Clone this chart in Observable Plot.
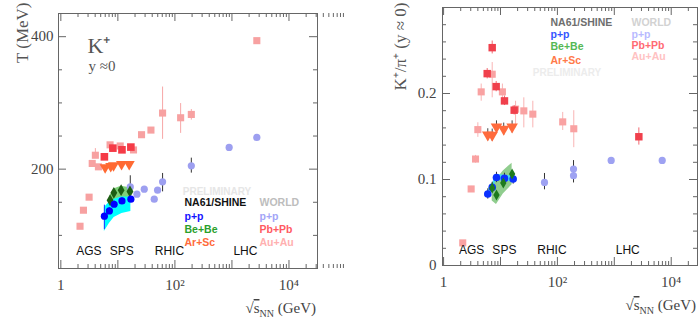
<!DOCTYPE html>
<html><head><meta charset="utf-8">
<script src="https://cdn.jsdelivr.net/npm/d3@7"></script>
<script src="https://cdn.jsdelivr.net/npm/@observablehq/plot@0.6"></script>
<style>
body{margin:0;background:#fff;}
#wrap{position:relative;width:698px;height:324px;overflow:hidden;}
#left,#right{position:absolute;top:0;}
#left{left:0;} #right{left:350px;}
</style></head><body><div id="wrap"><div id="left"></div><div id="right"></div></div>
<script>
// ---------------- LEFT PANEL: T (MeV) of K+ vs sqrt(sNN) ----------------
const L_auau_x = [2.17, 2.49, 3.13, 3.55, 4.03, 4.56, 7.3, 11, 18.8, 26, 38, 60.8, 126, 194, 2730];
const L_auau_T = [113.8, 138, 157.7, 208.6, 221, 203.5, 236.7, 235, 229, 252, 259, 284.7, 277.6, 282.6, 394];
const L_auauErr_x  = [4.03, 60.8, 126, 194];
const L_auauErr_lo = [216, 245, 254, 274];
const L_auauErr_hi = [231, 324, 299, 290];
const L_pbpb_x = [5.8, 8.17, 11.8, 16.9];
const L_pbpb_T = [218.6, 231.7, 229.2, 233.3];
const L_arsc_x = [5.98, 7.5, 8.4, 11.6, 15.8];
const L_arsc_T = [202.6, 204.5, 205.6, 207.6, 207.6];
const L_bebe_x = [7.3, 8.5, 11.4, 16.3];
const L_bebe_T = [153, 164.2, 168.3, 166.3];
const L_bebeBand_lo = [146, 154, 158, 158];
const L_bebeBand_hi = [160, 170, 174, 172];
const L_pp_x = [5.8, 7.1, 8.6, 11.8, 16.9];
const L_pp_T = [129, 137, 147, 152, 154.6];
const L_ppErr_lo = [108.8, 132, 142, 147, 150];
const L_ppErr_hi = [145.6, 142, 152, 157, 159];
const L_ppBand_lo = [106, 118, 127, 133, 136];
const L_ppBand_hi = [142, 150, 156, 160, 162];
const L_world_pp_x = [16.5, 21.6, 29, 43.4, 49.7, 60.8, 194, 893, 2730];
const L_world_pp_T = [173.2, 162.2, 169.8, 154.6, 168.3, 180.8, 205, 232.8, 247.9];
const L_worldErr_x  = [16.5, 60.8, 194, 893];
const L_worldErr_lo = [160, 165.7, 194, 228];
const L_worldErr_hi = [190, 193.5, 216.6, 237];

// ---------------- RIGHT PANEL: K+/pi+ ratio ----------------
const R_auau_x = [2.17, 3.05, 3.64, 4.0, 4.58, 7.15, 10.8, 18.4, 25.7, 37, 124, 194];
const R_auau_r = [0.0263, 0.089, 0.1238, 0.158, 0.2019, 0.2224, 0.2019, 0.1818, 0.1798, 0.176, 0.167, 0.159];
const R_auauErr_lo = [0.024, 0.086, 0.119, 0.149, 0.191, 0.195, 0.191, 0.160, 0.160, 0.160, 0.157, 0.137];
const R_auauErr_hi = [0.029, 0.092, 0.128, 0.166, 0.211, 0.236, 0.211, 0.191, 0.195, 0.191, 0.178, 0.180];
const R_pbpb_x = [5.84, 7.15, 8.4, 11.75, 17.4, 2700];
const R_pbpb_r = [0.2231, 0.2533, 0.208, 0.1914, 0.1806, 0.1497];
const R_pbpbErr_lo = [0.217, 0.246, 0.202, 0.186, 0.175, 0.140];
const R_pbpbErr_hi = [0.229, 0.261, 0.214, 0.197, 0.186, 0.160];
const R_arsc_x = [5.98, 7.15, 8.5, 11.4, 16];
const R_arsc_r = [0.152, 0.1516, 0.1612, 0.1586, 0.1612];
const R_bebe_x = [7.15, 8.5, 11.2, 16];
const R_bebe_r = [0.0901, 0.082, 0.0959, 0.1064];
const R_bebeBand_lo = [0.075, 0.071, 0.083, 0.094];
const R_bebeBand_hi = [0.096, 0.100, 0.110, 0.119];
const R_pp_x = [5.98, 7.15, 8.5, 11.75, 16.7];
const R_pp_r = [0.0832, 0.0908, 0.1024, 0.1013, 0.1006];
const R_ppBand_lo = [0.080, 0.087, 0.099, 0.098, 0.097];
const R_ppBand_hi = [0.087, 0.095, 0.106, 0.105, 0.104];
const R_world_pp_x = [59.3, 192, 192, 881, 6950];
const R_world_pp_r = [0.0966, 0.1044, 0.1122, 0.1222, 0.1222];
const R_worldErr_lo = [0.088, 0.096, 0.104, 0.120, 0.120];
const R_worldErr_hi = [0.107, 0.112, 0.122, 0.124, 0.124];

// facilities (beam energy where label sits) and tick labels
const facilities = ["AGS", "SPS", "RHIC", "LHC"];
const facilityEnergy = [3.1, 11.7, 80, 1720];
const xTickLabels = {1: "1", 100: "10\u00B2", 10000: "10\u2074"};

const zip = (xs, ys, extra = {}) => xs.map((x, i) => {
  const o = {x, y: ys[i]};
  for (const k in extra) o[k] = extra[k][i];
  return o;
});

const xMajor = [1, 10, 100, 1000, 10000];
const xMinor = d3.range(0, 5).flatMap(e => d3.range(2, 10).map(m => m * 10 ** e));

const serif = "Liberation Serif";
const sans = "Liberation Sans";

function frameTicks(xMin, yMajor, yMinor, pw, ph) {
  const s = "#666";
  return [
    Plot.tickX(xMajor, {x: d => d, stroke: s, insetTop: ph - 8}),
    Plot.tickX(xMin, {x: d => d, stroke: s, insetTop: ph - 4}),
    Plot.tickX(xMajor, {x: d => d, stroke: s, insetBottom: ph - 8}),
    Plot.tickX(xMin, {x: d => d, stroke: s, insetBottom: ph - 4}),
    Plot.tickY(yMajor, {y: d => d, stroke: s, insetRight: pw - 8}),
    Plot.tickY(yMinor, {y: d => d, stroke: s, insetRight: pw - 4}),
    Plot.tickY(yMajor, {y: d => d, stroke: s, insetLeft: pw - 8}),
    Plot.tickY(yMinor, {y: d => d, stroke: s, insetLeft: pw - 4})
  ];
}

function legendText(t, dx, dy, fill, anchor = "start", size = 10.5) {
  return Plot.text([t], {text: d => d, frameAnchor: "top-left", dx, dy, fill,
    fontFamily: sans, fontWeight: "bold", fontSize: size, textAnchor: anchor});
}

function errBars(xs, lo, hi, stroke) {
  return Plot.ruleX(zip(xs, lo, {hi}), {x: "x", y1: "y", y2: "hi", stroke, strokeWidth: 1});
}

function dots(xs, ys, opts) {
  return Plot.dot(zip(xs, ys), {x: "x", y: "y", stroke: null, ...opts});
}

function band(xs, lo, hi, fill, opacity = 1) {
  return Plot.areaY(zip(xs, lo, {hi}), {x: "x", y1: "y", y2: "hi", fill, fillOpacity: opacity});
}

function xLabel(svg, x, y) {
  const t = svg.append("text").attr("x", x).attr("y", y).attr("text-anchor", "end")
    .attr("font-family", serif).attr("font-size", 15).attr("fill", "#444");
  t.append("tspan").text("\u221A");
  t.append("tspan").style("text-decoration", "overline").text("s");
  t.append("tspan").attr("font-size", 10).attr("dy", 4).text("NN");
  t.append("tspan").attr("dy", -4).text(" (GeV)");
}

// ---------- LEFT ----------
{
  const W = 350, H = 324, mL = 58, mR = 33, mT = 13, mB = 56;
  const pw = W - mL - mR, ph = H - mT - mB;
  const yMinor = [100, 150, 250, 300, 350];
  const p = Plot.plot({
    width: W, height: H, marginLeft: mL, marginRight: mR, marginTop: mT, marginBottom: mB,
    style: {fontFamily: serif, fontSize: "15px", color: "#444", background: "white"},
    x: {type: "log", domain: [0.91, 31623]},
    y: {domain: [50, 435]},
    marks: [
      band(L_pp_x, L_ppBand_lo, L_ppBand_hi, "#00ffff"),
      band(L_bebe_x, L_bebeBand_lo, L_bebeBand_hi, "#7fd07a"),
      errBars(L_auauErr_x, L_auauErr_lo, L_auauErr_hi, "#f7a7a7"),
      dots(L_auau_x, L_auau_T, {symbol: "square", r: 4, fill: "#f7a1a1"}),
      dots(L_pbpb_x, L_pbpb_T, {symbol: "square", r: 4.3, fill: "#f53b47"}),
      dots(L_arsc_x, L_arsc_T, {symbol: "triangle", r: 4.1, rotate: 180, fill: "#ff6a33"}),
      errBars(L_worldErr_x, L_worldErr_lo, L_worldErr_hi, "#333"),
      dots(L_world_pp_x, L_world_pp_T, {r: 3.6, fill: "#9d9ff0"}),
      dots(L_bebe_x, L_bebe_T, {symbol: "diamond", r: 3.6, fill: "#1d5e14"}),
      errBars(L_pp_x, L_ppErr_lo, L_ppErr_hi, "#2233ff"),
      dots(L_pp_x, L_pp_T, {r: 3.6, fill: "#0000ff"}),
      Plot.frame({stroke: "#666"}),
      ...frameTicks(xMinor, [200, 400], yMinor, pw, ph),
      Plot.axisX({ticks: xMajor.filter(d => xTickLabels[d]), tickSize: 0, tickPadding: 11,
        tickFormat: d => xTickLabels[d], label: null, fill: "#444"}),
      Plot.axisY({ticks: [200, 400], tickSize: 0, tickPadding: 5, label: null, fill: "#444"}),
      Plot.text(["T (MeV)"], {text: d => d, frameAnchor: "top-left", dx: -43, dy: -11, rotate: -90,
        textAnchor: "end", fontFamily: serif, fontSize: 17, fill: "#555"}),
      Plot.text(["K\u207A"], {text: d => d, frameAnchor: "top-left", dx: 29, dy: 24, textAnchor: "start",
        fontFamily: serif, fontSize: 22, fill: "#555"}),
      Plot.text(["y \u22480"], {text: d => d, frameAnchor: "top-left", dx: 30, dy: 47, textAnchor: "start",
        fontFamily: serif, fontSize: 15, fill: "#555"}),
      Plot.text(zip(facilityEnergy, facilities), {x: "x", text: "y", frameAnchor: "bottom", dy: -14,
        fontFamily: sans, fontSize: 12, fill: "#111"}),
      legendText("PRELIMINARY", 158.5, 174.5, "#e6e6e6", "middle", 10),
      legendText("NA61/SHINE", 126, 185, "#111"),
      legendText("WORLD", 201, 185, "#bdbdbd"),
      legendText("p+p", 126, 198.7, "#1414ff"),
      legendText("Be+Be", 126, 212, "#2ba02b"),
      legendText("Ar+Sc", 126, 225.3, "#ff6a3a"),
      legendText("p+p", 201, 198.7, "#a3a5f7"),
      legendText("Pb+Pb", 201, 212, "#ff5a62"),
      legendText("Au+Au", 201, 225.3, "#ffb0b0")
    ]
  });
  document.getElementById("left").append(p);
  xLabel(d3.select(p), 316, 313);
}

// ---------- RIGHT ----------
{
  const W = 348, H = 324, mL = 92, mR = 1, mT = 7, mB = 59;
  const pw = W - mL - mR, ph = H - mT - mB;
  const yMajor = [0, 0.1, 0.2, 0.3];
  const yMinor = d3.range(0.02, 0.3, 0.02).filter(v => Math.abs(v * 10 - Math.round(v * 10)) > 1e-6);
  const p = Plot.plot({
    width: W, height: H, marginLeft: mL, marginRight: mR, marginTop: mT, marginBottom: mB,
    style: {fontFamily: serif, fontSize: "15px", color: "#444", background: "white"},
    x: {type: "log", domain: [0.957, 28970]},
    y: {domain: [0, 0.3]},
    marks: [
      band(R_bebe_x, R_bebeBand_lo, R_bebeBand_hi, "#7cc47a", 0.85),
      band(R_pp_x, R_ppBand_lo, R_ppBand_hi, "#33e0ff", 0.8),
      errBars(R_auau_x, R_auauErr_lo, R_auauErr_hi, "#f9b4b4"),
      dots(R_auau_x, R_auau_r, {symbol: "square", r: 4, fill: "#f9a2a2"}),
      errBars(R_pbpb_x, R_pbpbErr_lo, R_pbpbErr_hi, "#f26a72"),
      dots(R_pbpb_x, R_pbpb_r, {symbol: "square", r: 4.2, fill: "#f0404c"}),
      errBars(R_arsc_x, R_arsc_r.map(v => v - 0.007), R_arsc_r.map(v => v + 0.007), "#444"),
      dots(R_arsc_x, R_arsc_r, {symbol: "triangle", r: 4.3, rotate: 180, fill: "#ff6b3d"}),
      errBars(R_world_pp_x, R_worldErr_lo, R_worldErr_hi, "#333"),
      dots(R_world_pp_x, R_world_pp_r, {r: 3.6, fill: "#9ea2f2"}),
      errBars(R_pp_x, R_pp_r.map(v => v - 0.006), R_pp_r.map(v => v + 0.006), "#333"),
      dots(R_pp_x, R_pp_r, {r: 3.8, fill: "#0a30ff"}),
      errBars(R_bebe_x, R_bebe_r.map(v => v - 0.004), R_bebe_r.map(v => v + 0.004), "#1d5e14"),
      dots(R_bebe_x, R_bebe_r, {symbol: "diamond", r: 3.3, fill: "#1d7a1d"}),
      Plot.frame({stroke: "#666"}),
      ...frameTicks(xMinor, yMajor, yMinor, pw, ph),
      Plot.axisX({ticks: xMajor.filter(d => xTickLabels[d]), tickSize: 0, tickPadding: 11,
        tickFormat: d => xTickLabels[d], label: null, fill: "#444"}),
      Plot.axisY({ticks: [0, 0.1, 0.2], tickSize: 0, tickPadding: 6, label: null, fill: "#444",
        tickFormat: d => d === 0 ? "0" : d.toFixed(1)}),
      Plot.text(["K\u207A/\u03C0\u207A (y \u2248 0)"], {text: d => d, frameAnchor: "top-left", dx: -49, dy: -5,
        rotate: -90, textAnchor: "end", fontFamily: serif, fontSize: 17, fill: "#555"}),
      Plot.text(zip(facilityEnergy, facilities), {x: "x", text: "y", frameAnchor: "bottom", dy: -12,
        fontFamily: sans, fontSize: 12, fill: "#111"}),
      legendText("NA61/SHINE", 108, 11.5, "#6e6e6e"),
      legendText("WORLD", 189, 11.5, "#d2d2d2"),
      legendText("p+p", 108, 22.8, "#3355ff"),
      legendText("Be+Be", 108, 34.7, "#55b855"),
      legendText("Ar+Sc", 108, 49, "#ff7a4a"),
      legendText("PRELIMINARY", 124.5, 61, "#ececec", "middle", 10),
      legendText("p+p", 189, 22.8, "#b8baff"),
      legendText("Pb+Pb", 189, 34.3, "#ff6b73"),
      legendText("Au+Au", 189, 45.3, "#ffc2c2")
    ]
  });
  document.getElementById("right").append(p);
  xLabel(d3.select(p), 346, 310);
}
</script></body></html>
